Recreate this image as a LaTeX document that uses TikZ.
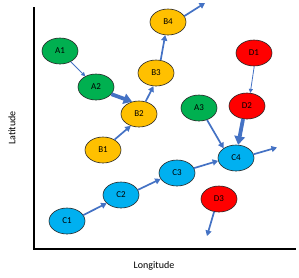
\documentclass[tikz,border=0pt]{standalone}
\usepackage{fontspec}
\setmainfont{Carlito}
\usetikzlibrary{shapes.geometric,arrows.meta}
\definecolor{cgreen}{HTML}{00B050}
\definecolor{cyellow}{HTML}{FFC000}
\definecolor{cred}{HTML}{FF0000}
\definecolor{cblue}{HTML}{00B0F0}
\definecolor{arrblue}{HTML}{4472C4}
\begin{document}
\begin{tikzpicture}[x=1pt,y=-1pt,
  pt/.style={ellipse,draw=black!85,line width=0.6pt,minimum width=36pt,minimum height=26pt,inner sep=0pt,font=\fontsize{9}{10}\selectfont},
  gpt/.style={pt,fill=cgreen},
  ypt/.style={pt,fill=cyellow},
  rpt/.style={pt,fill=cred},
  bpt/.style={pt,fill=cblue},
  thinarr/.style={draw=arrblue,line width=0.8pt,-{Triangle[length=4pt,width=4pt]}},
  medarr/.style={draw=arrblue,line width=1.7pt,-{Triangle[length=5.5pt,width=6pt]}},
  thickarr/.style={draw=arrblue,line width=3.8pt,-{Triangle[length=8.5pt,width=10.5pt]}},
  axis/.style={draw=black,line width=1.6pt},
  lbl/.style={font=\fontsize{10}{12}\selectfont}]
\useasboundingbox (0,0) rectangle (299,277);
% axes
\coordinate (ytop) at (34,7);
\coordinate (org) at (34,249);
\coordinate (xend) at (296,249);
\draw[axis] (ytop) -- (org) -- (xend);
\node[lbl,rotate=90] (lat) at (12,128) {Latitude};
\node[lbl] (lon) at (154,266) {Longitude};
% nodes
\node[gpt] (A1) at (60,51) {A1};
\node[gpt] (A2) at (96,87) {A2};
\node[gpt] (A3) at (199,108) {A3};
\node[ypt] (B1) at (103,150) {B1};
\node[ypt] (B2) at (139,114) {B2};
\node[ypt] (B3) at (156,73) {B3};
\node[ypt] (B4) at (168,22) {B4};
\node[rpt] (D1) at (254,53) {D1};
\node[rpt] (D2) at (247,106) {D2};
\node[rpt] (D3) at (219,199) {D3};
\node[bpt] (C1) at (67,221) {C1};
\node[bpt] (C2) at (121,195) {C2};
\node[bpt] (C3) at (177,173) {C3};
\node[bpt] (C4) at (236,158) {C4};
% free ends
\coordinate (B4e) at (205,3);
\coordinate (C4e) at (277,147.5);
\coordinate (D3e) at (207,236);
% arrows
\draw[thinarr] (A1) -- (A2);
\draw[thickarr] (A2.-25) -- (B2.119);
\draw[medarr] (B1.42) -- (B2.-125);
\draw[medarr] (B2.62) -- (B3.-101);
\draw[medarr] (B3.70) -- (B4.-102);
\draw[medarr] (B4.20) -- (B4e);
\draw[thinarr] (D1.-89) -- (D2.76);
\draw[thickarr] (D2.-107) -- (C4.81);
\draw[medarr] (A3.-56) -- (C4.142);
\draw[medarr] (C3.16) -- (C4.-171);
\draw[medarr] (C4.12) -- (C4e);
\draw[medarr] (C2.17) -- (C3.-160);
\draw[medarr] (C1.20) -- (C2.-150);
\draw[medarr] (D3.-111) -- (D3e);
\end{tikzpicture}
\end{document}
